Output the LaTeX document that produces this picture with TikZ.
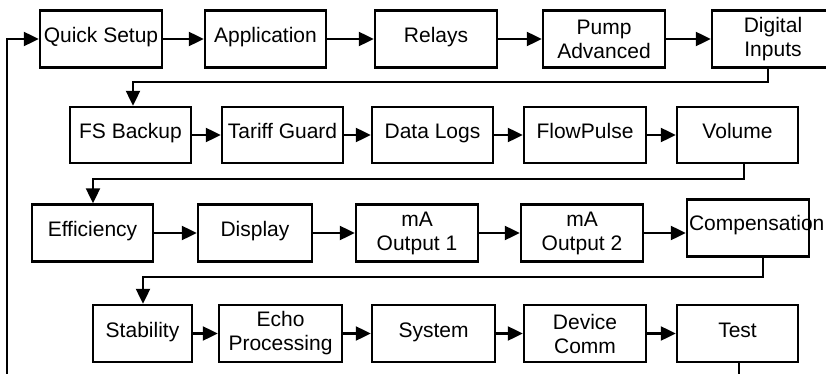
\documentclass[tikz,border=0pt]{standalone}
\usepackage{fontspec}
\setmainfont{Liberation Sans}
\usetikzlibrary{arrows.meta}
\tikzset{
  box/.style={draw=black, line width=2.4pt, fill=white, minimum height=57pt, inner sep=1pt, align=center, font=\fontsize{21}{24}\selectfont},
  one/.style={text height=14pt, text depth=7pt},
  conn/.style={line width=2.2pt},
  arr/.style={line width=2.2pt, -{Triangle[length=15pt,width=14pt]}},
}
\begin{document}
\begin{tikzpicture}[x=1pt,y=-1pt]
\useasboundingbox (0,0) rectangle (826,374);
\clip (0,0) rectangle (826,374);
\fill[white] (0,0) rectangle (826,374);
% Row 1
\node[box, one, minimum width=122pt] (qs)   at (101,39)   {Quick Setup};
\node[box, one, minimum width=121pt] (app)  at (265.5,39) {Application};
\node[box, one, minimum width=122pt] (rel)  at (436,39)   {Relays};
\node[box, minimum width=122pt] (pump) at (604,39)   {Pump\\Advanced};
\node[box, minimum width=122pt] (dig)  at (773,39)   {Digital\\Inputs};
% Row 2
\node[box, one, minimum width=121pt, minimum height=56pt] (fs)  at (130.5,135) {FS Backup};
\node[box, one, minimum width=121pt, minimum height=56pt] (tg)  at (282.5,135) {Tariff Guard};
\node[box, one, minimum width=121pt, minimum height=56pt] (dl)  at (432.5,135) {Data Logs};
\node[box, one, minimum width=122pt, minimum height=56pt] (fp)  at (585,135)   {FlowPulse};
\node[box, one, minimum width=121pt, minimum height=56pt] (vol) at (737.5,135) {Volume};
% Row 3
\node[box, one, minimum width=121pt] (eff)  at (92.5,233) {Efficiency};
\node[box, one, minimum width=114pt] (disp) at (255,233)  {Display};
\node[box, minimum width=122pt] (mao1) at (417,233)  {mA\\Output 1};
\node[box, minimum width=122pt] (mao2) at (582,233)  {mA\\Output 2};
\node[box, minimum width=122pt] (comp) at (748,228) {};
\node[anchor=west, inner sep=0pt, font=\fontsize{21}{24}\selectfont] (compt) at ([xshift=3pt,yshift=3pt]comp.west) {Compensation};
% Row 4
\node[box, one, minimum width=99pt]  (stab) at (142.5,333.5) {Stability};
\node[box, minimum width=123pt] (echo) at (280.5,333.5) {Echo\\Processing};
\node[box, one, minimum width=123pt] (sys)  at (433.5,333.5) {System};
\node[box, minimum width=122pt] (dc)   at (585,333.5)   {Device\\Comm};
\node[box, one, minimum width=121pt] (test) at (737.5,333.5) {Test};
% horizontal arrows
\draw[arr] (qs) -- (app);
\draw[arr] (app) -- (rel);
\draw[arr] (rel) -- (pump);
\draw[arr] (pump) -- (dig);
\draw[arr] (fs) -- (tg);
\draw[arr] (tg) -- (dl);
\draw[arr] (dl) -- (fp);
\draw[arr] (fp) -- (vol);
\draw[arr] (eff) -- (disp);
\draw[arr] (disp) -- (mao1);
\draw[arr] (mao1) -- (mao2);
\draw[arr] (mao2.east) -- (mao2.east -| comp.west);
\draw[arr] (stab) -- (echo);
\draw[arr] (echo) -- (sys);
\draw[arr] (sys) -- (dc);
\draw[arr] (dc) -- (test);
% row transitions
\coordinate (a1) at (768,82);
\coordinate (a2) at (133,82);
\draw[arr] (dig.south -| a1) -- (a1) -- (a2) -- (a2 |- fs.north);
\coordinate (b1) at (744,179);
\coordinate (b2) at (93,179);
\draw[arr] (vol.south -| b1) -- (b1) -- (b2) -- (b2 |- eff.north);
\coordinate (c1) at (763,277);
\coordinate (c2) at (143,277);
\draw[arr] (comp.south -| c1) -- (c1) -- (c2) -- (c2 |- stab.north);
% loop back
\coordinate (d1) at (739,395);
\coordinate (d2) at (7,395);
\draw[arr] (test.south -| d1) -- (d1) -- (d2) |- (qs.west);
\end{tikzpicture}
\end{document}
